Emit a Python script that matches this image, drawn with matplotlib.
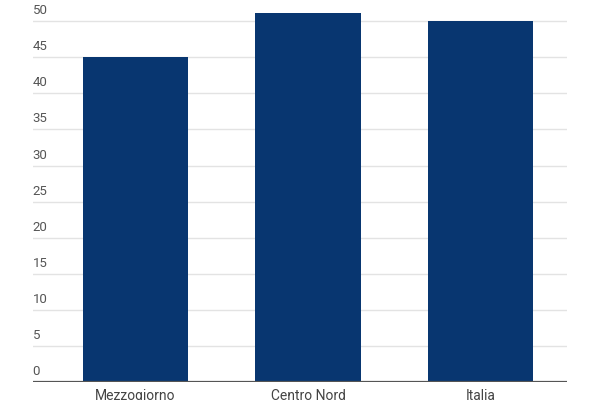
import numpy as np
import matplotlib
matplotlib.use("Agg")
import matplotlib.pyplot as plt
from matplotlib.transforms import offset_copy

# dati
categorie = ["Mezzogiorno", "Centro Nord", "Italia"]
valori = [45.0, 51.1, 50.0]
tick_y = [0, 5, 10, 15, 20, 25, 30, 35, 40, 45, 50]

plt.rcParams['font.family'] = ['Roboto', 'DejaVu Sans']

fig = plt.figure(figsize=(6, 4), dpi=100)
ax = fig.add_axes([0.0545, 0.044, 0.89, 0.956])

x = np.arange(len(categorie))
ax.bar(x, valori, width=0.611, color="#083670", zorder=3)

ax.set_xlim(-0.594, 2.498)
ax.set_ylim(0, 52.9)

# griglia orizzontale
for t in tick_y[1:]:
    ax.axhline(t, color="#e3e3e3", lw=1, zorder=1)
ax.axhline(0, color="#555555", lw=1.6, zorder=4)

# etichette asse y sopra le linee
trans = offset_copy(ax.get_yaxis_transform(), fig=fig, x=0, y=4, units='dots')
for t in tick_y:
    ax.text(0.0, t, str(t), transform=trans, ha='left', va='bottom',
            fontsize=9.5, color="#555555")

ax.set_yticks([])
ax.set_xticks(x)
ax.set_xticklabels(categorie, fontsize=10, color="#444444")
ax.tick_params(axis='x', length=0, pad=5)

for s in ax.spines.values():
    s.set_visible(False)

fig.savefig("out.png", dpi=100)
